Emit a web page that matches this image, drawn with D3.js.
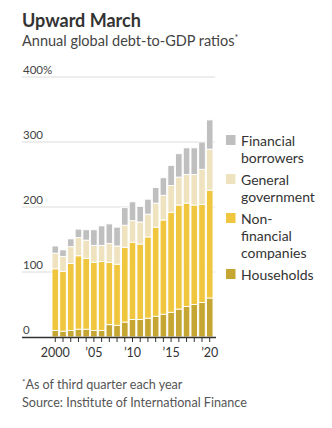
<!DOCTYPE html>
<html>
<head>
<meta charset="utf-8">
<script src="https://cdn.jsdelivr.net/npm/d3@7"></script>
<style>
  body { margin: 0; background: #fff; }
  svg { font-family: Lato, "Noto Sans", sans-serif; }
</style>
</head>
<body>
<svg id="chart"></svg>
<script>
// godine i udjeli duga u BDP-u (postotak), po sektorima
const years = d3.range(2000, 2021);
const households = [10, 9, 10, 12, 12, 10, 10, 19, 18, 23, 27, 27, 29, 32, 35, 38, 43, 47, 50, 53, 60];
const nonFinancial = [95, 92, 103, 113, 109, 105, 106, 96, 94, 115, 119, 116, 125, 137, 145, 154, 160, 159, 153, 151, 166];
const government = [24, 23, 26, 28, 28, 26, 25, 29, 28, 34, 33, 34, 35, 37, 38, 41, 43, 44, 47, 54, 63];
const financial = [11, 10, 12, 13, 16, 24, 30, 30, 29, 27, 29, 24, 23, 24, 27, 31, 36, 41, 41, 42, 45];
const yTicks = [0, 100, 200, 300, 400];
const xLabels = { 2000: "2000", 2005: "\u201905", 2010: "\u201910", 2015: "\u201915", 2020: "\u201920" };

const series = [
  { key: "households", label: ["Households"], color: "#c6a632", values: households },
  { key: "nonFinancial", label: ["Non-", "financial", "companies"], color: "#efc63d", values: nonFinancial },
  { key: "government", label: ["General", "government"], color: "#efe3bf", values: government },
  { key: "financial", label: ["Financial", "borrowers"], color: "#bfbfbf", values: financial }
];

const rows = years.map((yr, i) => {
  const r = { year: yr };
  series.forEach(s => { r[s.key] = s.values[i]; });
  return r;
});

const W = 332, H = 428;
const svg = d3.select('#chart').attr('width', W).attr('height', H);

svg.append('text')
  .attr('x', 22).attr('y', 27)
  .attr('font-size', 18).attr('font-weight', 700).attr('fill', '#333')
  .text('Upward March');

const sub = svg.append('text')
  .attr('x', 22).attr('y', 46)
  .attr('font-size', 14.5).attr('fill', '#444');
sub.append('tspan').text('Annual global debt-to-GDP ratios');
sub.append('tspan').attr('font-size', 9).attr('dy', -5).text('*');

const x = d3.scaleBand()
  .domain(years)
  .range([52, 213])
  .paddingInner(0.15)
  .paddingOuter(0);

const y = d3.scaleLinear()
  .domain([0, 400])
  .range([337, 77]);

// mreža i oznake osi y
const grid = svg.append('g');
grid.selectAll('line')
  .data(yTicks.filter(d => d > 0))
  .enter().append('line')
  .attr('x1', 22).attr('x2', 215)
  .attr('y1', d => y(d)).attr('y2', d => y(d))
  .attr('stroke', '#dcdcdc').attr('stroke-width', 1);

grid.selectAll('text')
  .data(yTicks)
  .enter().append('text')
  .attr('x', 23)
  .attr('y', d => y(d) - 3)
  .attr('font-size', 11.5).attr('fill', '#444')
  .text(d => d === 400 ? '400%' : d);

const stack = d3.stack().keys(series.map(s => s.key));
const layers = stack(rows);

svg.append('g').selectAll('g')
  .data(layers)
  .enter().append('g')
  .attr('fill', (d, i) => series[i].color)
  .selectAll('rect')
  .data(d => d)
  .enter().append('rect')
  .attr('x', d => x(d.data.year))
  .attr('width', x.bandwidth())
  .attr('y', d => y(d[1]))
  .attr('height', d => y(d[0]) - y(d[1]))
  .attr('stroke', '#fff')
  .attr('stroke-width', 0.9);

// os x
const xAxis = svg.append('g');
xAxis.append('line')
  .attr('x1', 22).attr('x2', 216)
  .attr('y1', 337.5).attr('y2', 337.5)
  .attr('stroke', '#333').attr('stroke-width', 1.5);

xAxis.selectAll('.tick')
  .data(years)
  .enter().append('line')
  .attr('class', 'tick')
  .attr('x1', d => x(d) + x.bandwidth() / 2)
  .attr('x2', d => x(d) + x.bandwidth() / 2)
  .attr('y1', 337.5).attr('y2', 342)
  .attr('stroke', '#333').attr('stroke-width', 1);

xAxis.selectAll('.lbl')
  .data(years.filter(d => xLabels[d]))
  .enter().append('text')
  .attr('class', 'lbl')
  .attr('x', d => x(d) + x.bandwidth() / 2)
  .attr('y', 357)
  .attr('text-anchor', 'middle')
  .attr('font-size', 12.5).attr('fill', '#333')
  .text(d => xLabels[d]);

// legenda
const legendTop = [135, 174, 213, 269];
const legend = svg.append('g');
series.slice().reverse().forEach((s, i) => {
  const g = legend.append('g').attr('transform', `translate(226,${legendTop[i]})`);
  g.append('rect').attr('width', 9.5).attr('height', 10).attr('fill', s.color);
  g.append('text')
    .attr('x', 15).attr('y', 10.5)
    .attr('font-size', 14).attr('fill', '#333')
    .selectAll('tspan')
    .data(s.label)
    .enter().append('tspan')
    .attr('x', 15)
    .attr('dy', (d, j) => j === 0 ? 0 : 17)
    .text(d => d);
});

const note = svg.append('text')
  .attr('x', 22).attr('y', 389)
  .attr('font-size', 12.6).attr('fill', '#555');
note.append('tspan').attr('font-size', 8).attr('dy', -4).text('*');
note.append('tspan').attr('dy', 4).text('As of third quarter each year');

svg.append('text')
  .attr('x', 22).attr('y', 407)
  .attr('font-size', 12.6).attr('fill', '#555')
  .text('Source: Institute of International Finance');
</script>
</body>
</html>
